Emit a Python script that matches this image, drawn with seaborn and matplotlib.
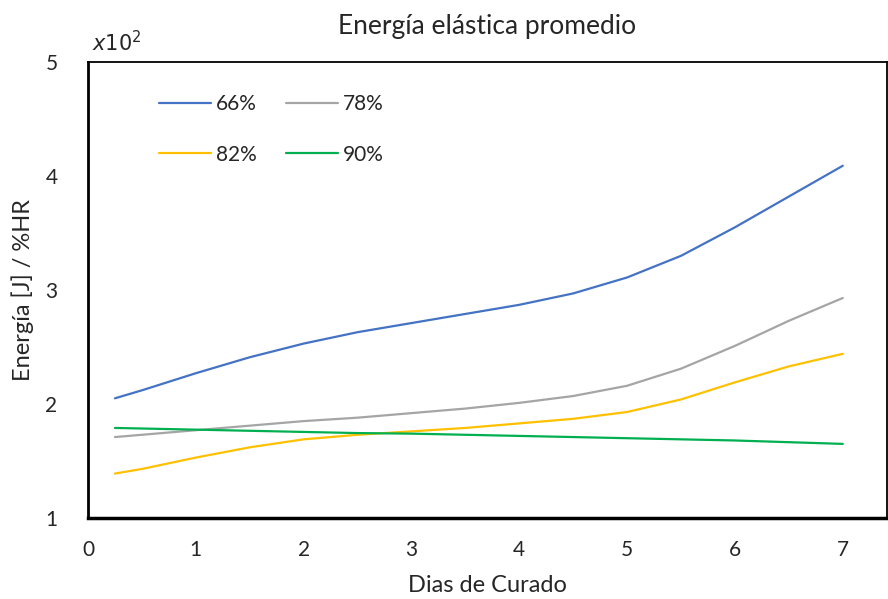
import pandas as pd
import seaborn as sns
import matplotlib.pyplot as plt

# values (x10^2 J)
dias = [0.25, 0.5, 1, 1.5, 2, 2.5, 3, 3.5, 4, 4.5, 5, 5.5, 6, 6.5, 7]
hr_66 = [2.05, 2.12, 2.27, 2.41, 2.53, 2.63, 2.71, 2.79, 2.87, 2.97, 3.11, 3.30, 3.55, 3.82, 4.09]
hr_78 = [1.71, 1.73, 1.77, 1.81, 1.85, 1.88, 1.92, 1.96, 2.01, 2.07, 2.16, 2.31, 2.51, 2.73, 2.93]
hr_82 = [1.39, 1.43, 1.53, 1.62, 1.69, 1.73, 1.76, 1.79, 1.83, 1.87, 1.93, 2.04, 2.19, 2.33, 2.44]
hr_90 = [1.79, 1.785, 1.775, 1.765, 1.755, 1.745, 1.74, 1.73, 1.72, 1.71, 1.70, 1.69, 1.68, 1.665, 1.65]
series = ['66%', '78%', '82%', '90%']
colores = ['#4472C4', '#A5A5A5', '#FFC000', '#00B050']

df = pd.DataFrame({'Dias': dias, '66%': hr_66, '78%': hr_78, '82%': hr_82, '90%': hr_90})
long_df = df.melt(id_vars='Dias', var_name='HR', value_name='Energia')

sns.set_style('white')
plt.rcParams['font.family'] = ['Lato', 'DejaVu Sans']

fig = plt.figure(figsize=(8.88, 5.99), dpi=100)
ax = fig.add_axes([88 / 888, 1 - 518 / 599, 799 / 888, 456 / 599])

sns.lineplot(data=long_df, x='Dias', y='Energia', hue='HR', hue_order=series,
             palette=colores, linewidth=1.6, ax=ax)

ax.set_xlim(0, 7.41)
ax.set_ylim(1, 5)
ax.set_xticks(range(0, 8))
ax.set_yticks(range(1, 6))
ax.tick_params(axis='both', length=0, labelsize=15)
ax.tick_params(axis='x', pad=16)
ax.tick_params(axis='y', pad=22)
for s in ax.spines.values():
    s.set_color('black')
    s.set_linewidth(1.3)
ax.spines['left'].set_linewidth(2)
ax.spines['bottom'].set_linewidth(2.5)

ax.set_xlabel('Dias de Curado', fontsize=17, labelpad=11)
ax.set_ylabel('Energía [J] / %HR', fontsize=17, labelpad=8)
ax.set_title('Energía elástica promedio', fontsize=19, pad=20)
fig.text(92 / 888, 1 - 43 / 599, r'$x10^2$', fontsize=15, family='DejaVu Serif',
         va='center', ha='left')

# row-wise legend order as in the original: 66, 78 / 82, 90
handles, labels = ax.get_legend_handles_labels()
order = [0, 2, 1, 3]
leg = ax.legend([handles[i] for i in order], [labels[i] for i in order],
                ncol=2, frameon=False, fontsize=15, loc='upper left',
                bbox_to_anchor=(0.065, 0.97), handlelength=2.5, columnspacing=1.4,
                labelspacing=1.45, handletextpad=0.25)
for line in leg.get_lines():
    line.set_linewidth(1.6)

fig.savefig('out.png', dpi=100)
